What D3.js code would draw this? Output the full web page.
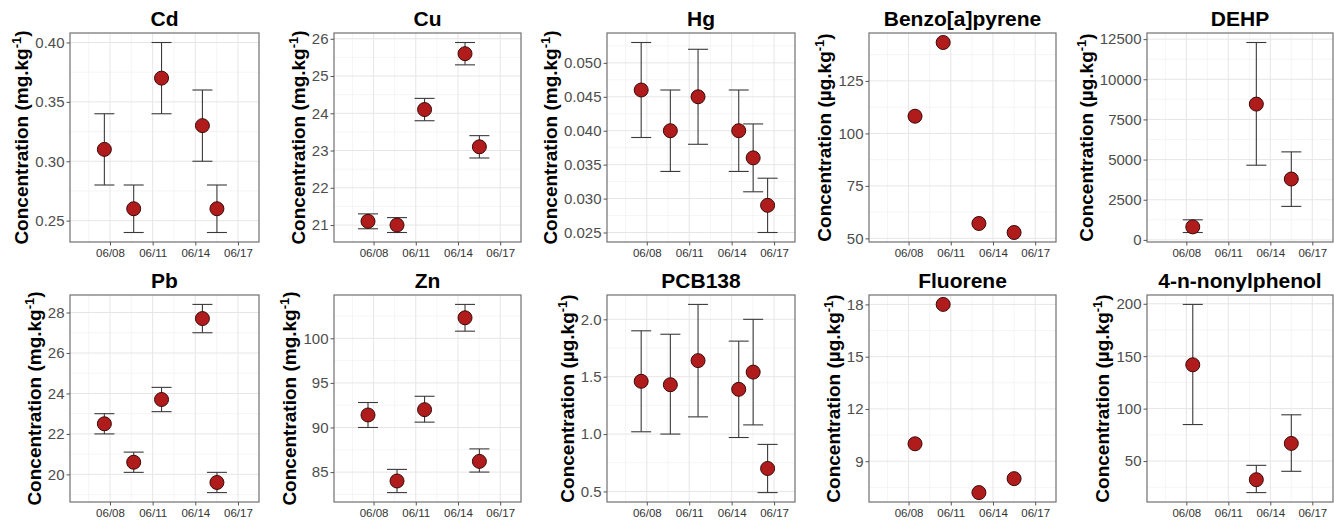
<!DOCTYPE html>
<html><head><meta charset="utf-8">
<script src="https://cdn.jsdelivr.net/npm/d3@7"></script>
<style>body{margin:0;background:#fff} text{font-family:"Liberation Sans",Arial,sans-serif}</style>
</head><body><svg id="c" width="1334" height="521"></svg>
<script>
// ---- data ----
const metalDates   = ["2021-06-07T14:30","2021-06-09T16:00","2021-06-11T15:00","2021-06-14T12:00","2021-06-15T12:30","2021-06-16T13:00"];
const organicDates = ["2021-06-08T11:00","2021-06-10T11:00","2021-06-13T00:00","2021-06-15T12:00"];
const xTickLabels  = ["06/08","06/11","06/14","06/17"];

const cdMean=[0.31,0.26,0.37,0.33,0.26], cdLow=[0.28,0.24,0.34,0.30,0.24], cdHigh=[0.34,0.28,0.40,0.36,0.28];
const cdTicks=["0.25","0.30","0.35","0.40"];
const cuMean=[21.1,21.0,24.1,25.6,23.1], cuLow=[20.9,20.8,23.8,25.3,22.8], cuHigh=[21.3,21.2,24.4,25.9,23.4];
const cuTicks=["21","22","23","24","25","26"];
const hgMean=[0.046,0.040,0.045,0.040,0.036,0.029], hgLow=[0.039,0.034,0.038,0.034,0.031,0.025], hgHigh=[0.053,0.046,0.052,0.046,0.041,0.033];
const hgTicks=["0.025","0.030","0.035","0.040","0.045","0.050"];
const bapMean=[108.2,143.3,57.1,52.8];
const bapTicks=["50","75","100","125"];
const dehpMean=[810,8455,3790], dehpLow=[460,4650,2085], dehpHigh=[1250,12290,5480];
const dehpTicks=["0","2500","5000","7500","10000","12500"];
const pbMean=[22.5,20.6,23.7,27.7,19.6], pbLow=[22.0,20.1,23.1,27.0,19.1], pbHigh=[23.0,21.1,24.3,28.4,20.1];
const pbTicks=["20","22","24","26","28"];
const znMean=[91.4,84.0,92.0,102.3,86.2], znLow=[90.0,82.7,90.6,100.8,85.0], znHigh=[92.8,85.3,93.5,103.8,87.6];
const znTicks=["85","90","95","100"];
const pcbMean=[1.46,1.43,1.64,1.39,1.54,0.70], pcbLow=[1.02,1.00,1.15,0.97,1.08,0.49], pcbHigh=[1.90,1.87,2.13,1.81,2.00,0.91];
const pcbTicks=["0.5","1.0","1.5","2.0"];
const fluMean=[10.0,18.0,7.2,8.0];
const fluTicks=["9","12","15","18"];
const npMean=[141.8,32.2,66.8], npLow=[84.8,19.9,40.2], npHigh=[199.4,45.9,94.1];
const npTicks=["50","100","150","200"];

const mg="mg", ug="\u00B5g";
const pick=(arr,idx)=>idx.map(i=>arr[i]);
const panels=[
 {title:"Cd", unit:mg, dates:pick(metalDates,[0,1,2,3,4]), mean:cdMean, low:cdLow, high:cdHigh, ticks:cdTicks, row:0, col:0},
 {title:"Cu", unit:mg, dates:pick(metalDates,[0,1,2,3,4]), mean:cuMean, low:cuLow, high:cuHigh, ticks:cuTicks, row:0, col:1},
 {title:"Hg", unit:mg, dates:metalDates, mean:hgMean, low:hgLow, high:hgHigh, ticks:hgTicks, row:0, col:2},
 {title:"Benzo[a]pyrene", unit:ug, dates:organicDates, mean:bapMean, low:null, high:null, ticks:bapTicks, row:0, col:3},
 {title:"DEHP", unit:ug, dates:pick(organicDates,[0,2,3]), mean:dehpMean, low:dehpLow, high:dehpHigh, ticks:dehpTicks, row:0, col:4},
 {title:"Pb", unit:mg, dates:pick(metalDates,[0,1,2,3,4]), mean:pbMean, low:pbLow, high:pbHigh, ticks:pbTicks, row:1, col:0},
 {title:"Zn", unit:mg, dates:pick(metalDates,[0,1,2,3,4]), mean:znMean, low:znLow, high:znHigh, ticks:znTicks, row:1, col:1},
 {title:"PCB138", unit:ug, dates:metalDates, mean:pcbMean, low:pcbLow, high:pcbHigh, ticks:pcbTicks, row:1, col:2},
 {title:"Fluorene", unit:ug, dates:organicDates, mean:fluMean, low:null, high:null, ticks:fluTicks, row:1, col:3},
 {title:"4-n-nonylphenol", unit:ug, dates:pick(organicDates,[0,2,3]), mean:npMean, low:npLow, high:npHigh, ticks:npTicks, row:1, col:4}
];

// ---- layout ----
const cols=[[70,259],[334,521],[607,795],[869,1056],[1147,1333]];
const rows=[[33,242],[295,502]];
const parse=d3.timeParse("%Y-%m-%dT%H:%M");
const xDomain=[parse("2021-06-05T04:30"), parse("2021-06-18T11:30")];
const xTicks=xTickLabels.map(s=>d3.timeParse("%Y/%m/%d")("2021/"+s));
const xMinor=["2021-06-06T12:00","2021-06-09T12:00","2021-06-12T12:00","2021-06-15T12:00","2021-06-18T12:00"].map(parse);

const svg=d3.select("#c");
svg.append("rect").attr("width",1334).attr("height",521).attr("fill","#fff");

panels.forEach(p=>{
  const [L,R]=cols[p.col], [T,B]=rows[p.row];
  const g=svg.append("g");
  const x=d3.scaleTime().domain(xDomain).range([L,R]);
  const lows=p.low||p.mean, highs=p.high||p.mean;
  const lo=d3.min(lows), hi=d3.max(highs), pad=(hi-lo)*0.05;
  const y=d3.scaleLinear().domain([lo-pad,hi+pad]).range([B,T]);
  const majors=p.ticks.map(Number);
  const step=majors[1]-majors[0];
  const yMinor=[majors[0]-step/2].concat(majors.map(v=>v+step/2)).filter(v=>v>=y.domain()[0]&&v<=y.domain()[1]);
  const xm=xMinor.filter(d=>d>=xDomain[0]&&d<=xDomain[1]);

  // grid
  g.selectAll(".ymn").data(yMinor).join("line").attr("x1",L).attr("x2",R).attr("y1",d=>y(d)).attr("y2",d=>y(d)).attr("stroke","#f2f2f2").attr("stroke-width",0.8);
  g.selectAll(".xmn").data(xm).join("line").attr("y1",T).attr("y2",B).attr("x1",d=>x(d)).attr("x2",d=>x(d)).attr("stroke","#f2f2f2").attr("stroke-width",0.8);
  g.selectAll(".ymj").data(majors).join("line").attr("x1",L).attr("x2",R).attr("y1",d=>y(d)).attr("y2",d=>y(d)).attr("stroke","#e6e6e6").attr("stroke-width",1);
  g.selectAll(".xmj").data(xTicks).join("line").attr("y1",T).attr("y2",B).attr("x1",d=>x(d)).attr("x2",d=>x(d)).attr("stroke","#e6e6e6").attr("stroke-width",1);

  // error bars
  if(p.low){
    const eb=g.append("g").attr("stroke","#3a3a3a").attr("stroke-width",1.1);
    p.dates.forEach((ds,i)=>{
      const cx=x(parse(ds));
      eb.append("line").attr("x1",cx).attr("x2",cx).attr("y1",y(p.low[i])).attr("y2",y(p.high[i]));
      eb.append("line").attr("x1",cx-10).attr("x2",cx+10).attr("y1",y(p.low[i])).attr("y2",y(p.low[i]));
      eb.append("line").attr("x1",cx-10).attr("x2",cx+10).attr("y1",y(p.high[i])).attr("y2",y(p.high[i]));
    });
  }
  // points
  g.selectAll("circle").data(p.mean).join("circle")
    .attr("cx",(d,i)=>x(parse(p.dates[i]))).attr("cy",d=>y(d)).attr("r",7)
    .attr("fill","#B01C1C").attr("stroke","#3a0a0a").attr("stroke-width",1);

  // border
  g.append("rect").attr("x",L).attr("y",T).attr("width",R-L).attr("height",B-T).attr("fill","none").attr("stroke","#707070").attr("stroke-width",1.2);

  // axes
  const ya=g.append("g").attr("transform",`translate(${L},0)`)
    .call(d3.axisLeft(y).tickValues(majors).tickFormat((d,i)=>p.ticks[i]).tickSize(3.5).tickPadding(2));
  ya.select(".domain").remove();
  ya.selectAll("line").attr("stroke","#555");
  ya.selectAll("text").style("font-size","15px").attr("fill","#4d4d4d").attr("font-family",null);
  const xa=g.append("g").attr("transform",`translate(0,${B})`)
    .call(d3.axisBottom(x).tickValues(xTicks).tickFormat((d,i)=>xTickLabels[i]).tickSize(3.5).tickPadding(3));
  xa.select(".domain").remove();
  xa.selectAll("line").attr("stroke","#555");
  xa.selectAll("text").style("font-size","11.5px").attr("fill","#333").attr("font-family",null);

  // y label
  const bb=ya.node().getBBox();
  const lx=L+bb.x-7;
  const lab=g.append("text").attr("transform",`translate(${lx},${(T+B)/2}) rotate(-90)`)
    .attr("text-anchor","middle").style("font-size","19px").style("font-weight","bold").attr("fill","#000");
  lab.append("tspan").text("Concentration ("+p.unit+".kg");
  lab.append("tspan").attr("dy",-7).style("font-size","13px").text("-1");
  lab.append("tspan").attr("dy",7).text(")");

  // title
  g.append("text").attr("x",(L+R)/2).attr("y",T-7.5).attr("text-anchor","middle")
    .style("font-size","21px").style("font-weight","bold").attr("fill","#000").text(p.title);
});
</script></body></html>
